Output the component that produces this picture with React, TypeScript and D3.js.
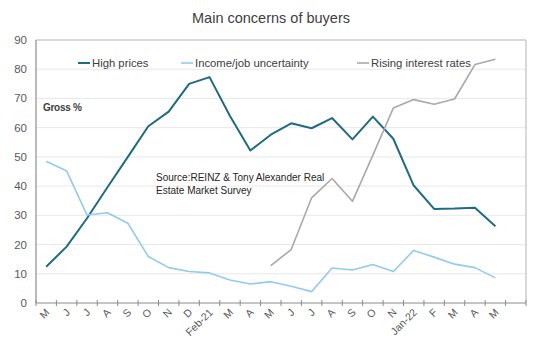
import React from 'react';
import * as d3 from 'd3';

// categories (last band is left empty, as in the source chart)
const months = [
  'M', 'J', 'J', 'A', 'S', 'O', 'N', 'D', 'Feb-21', 'M', 'A', 'M',
  'J', 'J', 'A', 'S', 'O', 'N', 'Jan-22', 'F', 'M', 'A', 'M',
];

const highPrices = [
  12.4, 19.3, 29, 39.6, 50, 60.5, 65.5, 75, 77.3, 64, 52.2, 57.6,
  61.5, 59.8, 63.3, 56, 63.8, 56.2, 40.2, 32.2, 32.3, 32.6, 26.3,
];

const incomeJob = [
  48.5, 45.2, 30.1, 30.9, 27.3, 15.9, 12.1, 10.8, 10.3, 7.9, 6.5, 7.3,
  5.7, 3.9, 12, 11.3, 13.2, 10.8, 18, 15.7, 13.3, 12.1, 8.6,
];

// only surveyed from May-21 onwards
const risingRates: (number | null)[] = [
  null, null, null, null, null, null, null, null, null, null, null, 12.8,
  18.3, 36, 42.6, 34.8, 50.6, 66.7, 69.6, 68, 69.8, 81.6, 83.4,
];

const yTicks = [0, 10, 20, 30, 40, 50, 60, 70, 80, 90];

const series = [
  { name: 'High prices', values: highPrices as (number | null)[], color: '#1f6b85', width: 2, legendX: 78 },
  { name: 'Income/job uncertainty', values: incomeJob as (number | null)[], color: '#93cbee', width: 1.6, legendX: 181 },
  { name: 'Rising interest rates', values: risingRates, color: '#a9a9a9', width: 1.6, legendX: 357 },
];

const W = 540;
const H = 353;
const margin = { top: 40, right: 14, bottom: 50, left: 36 };
const font = '"Liberation Sans", Arial, sans-serif';

const App: React.FC = () => {
  const x = d3
    .scaleBand<number>()
    .domain(d3.range(months.length + 1))
    .range([margin.left, W - margin.right]);

  const y = d3
    .scaleLinear()
    .domain([0, 90])
    .range([H - margin.bottom, margin.top]);

  const cx = (i: number) => x(i)! + x.bandwidth() / 2;

  const line = d3
    .line<number | null>()
    .defined((d) => d != null)
    .x((_, i) => cx(i))
    .y((d) => y(d as number));

  const x0 = margin.left;
  const x1 = W - margin.right;
  const yb = y(0);

  return (
    <svg
      width={W}
      height={H}
      style={{ position: 'absolute', left: 0, top: 0, background: '#fff' }}
      fontFamily={font}
    >
      <text x={271} y={23} textAnchor="middle" fontSize={14.5} fill="#404040">
        Main concerns of buyers
      </text>

      {/* gridlines */}
      {yTicks.slice(1, -1).map((t) => (
        <line key={t} x1={x0} x2={x1} y1={y(t)} y2={y(t)} stroke="#e8e8e8" strokeWidth={1} />
      ))}

      {/* frame */}
      <line x1={x0} x2={x1} y1={y(90)} y2={y(90)} stroke="#b3b3b3" />
      <line x1={x1} x2={x1} y1={y(90)} y2={yb} stroke="#b3b3b3" />
      <line x1={x0} x2={x0} y1={y(90)} y2={yb} stroke="#8c8c8c" strokeWidth={1.2} />
      <line x1={x0} x2={x1} y1={yb} y2={yb} stroke="#8c8c8c" strokeWidth={1.2} />

      {/* y labels */}
      {yTicks.map((t) => (
        <text key={t} x={27} y={y(t) + 4} textAnchor="end" fontSize={11.5} fill="#595959">
          {t}
        </text>
      ))}

      {/* x ticks */}
      {d3.range(months.length + 2).map((i) => {
        const px = margin.left + i * x.step();
        return <line key={i} x1={px} x2={px} y1={yb - 3} y2={yb + 3} stroke="#8c8c8c" />;
      })}

      {/* x labels */}
      {months.map((m, i) => (
        <text
          key={i}
          transform={`translate(${cx(i) + 4},${yb + 10}) rotate(-45)`}
          textAnchor="end"
          fontSize={10.5}
          fill="#595959"
        >
          {m}
        </text>
      ))}

      {/* series */}
      {series.map((s) => (
        <path
          key={s.name}
          d={line(s.values) || ''}
          fill="none"
          stroke={s.color}
          strokeWidth={s.width}
          strokeLinejoin="round"
        />
      ))}

      {/* legend */}
      {series.map((s) => (
        <g key={s.name}>
          <line x1={s.legendX} x2={s.legendX + 12} y1={63} y2={63} stroke={s.color} strokeWidth={s.width} />
          <text x={s.legendX + 14} y={67} fontSize={11.3} fill="#404040">
            {s.name}
          </text>
        </g>
      ))}

      <text x={43} y={111} fontSize={10} fontWeight="bold" fill="#404040" letterSpacing={-0.3}>
        Gross %
      </text>
      <text fontSize={10} fill="#262626">
        <tspan x={156} y={181}>Source:REINZ &amp; Tony Alexander Real</tspan>
        <tspan x={156} y={194}>Estate Market Survey</tspan>
      </text>
    </svg>
  );
};

export default App;
